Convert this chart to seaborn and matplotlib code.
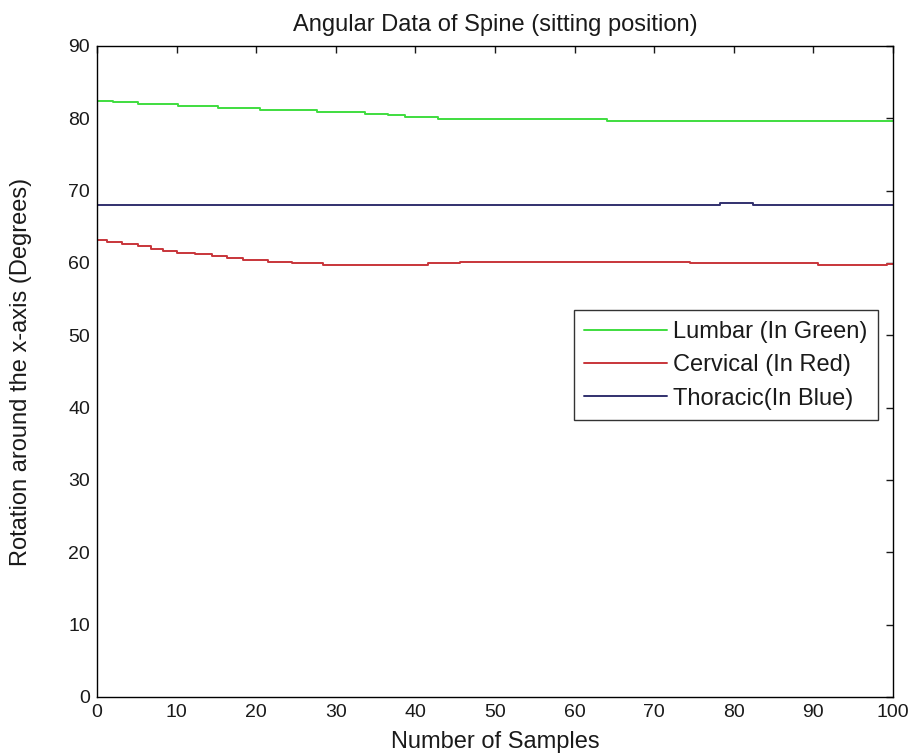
import matplotlib
matplotlib.use("Agg")
import matplotlib.pyplot as plt
import seaborn as sns
import pandas as pd

# Sample index where each level begins, and the angle held from there on
lumbar_x = [0, 2, 5.2, 10.2, 15.2, 20.5, 27.6, 33.7, 36.6, 38.7, 42.8, 64.1, 100]
lumbar_y = [82.44, 82.2, 81.94, 81.7, 81.4, 81.15, 80.87, 80.6, 80.4, 80.15, 79.87, 79.63, 79.63]

cervical_x = [0, 1.2, 3.2, 5.2, 6.8, 8.3, 10.1, 12.3, 14.4, 16.3, 18.3, 21.5, 24.5,
              28.4, 41.6, 45.6, 74.5, 90.6, 99.2, 100]
cervical_y = [63.2, 62.9, 62.6, 62.3, 62.0, 61.7, 61.43, 61.2, 60.97, 60.7, 60.4, 60.2,
              59.96, 59.68, 59.96, 60.2, 59.96, 59.68, 59.9, 59.9]

thoracic_x = [0, 78.3, 82.4, 100]
thoracic_y = [68.02, 68.25, 68.02, 68.02]

labels = ["Lumbar (In Green)", "Cervical (In Red)", "Thoracic(In Blue)"]
colors = ["#3fdd3f", "#c8353a", "#31306e"]

frames = []
for name, xs, ys in zip(labels, [lumbar_x, cervical_x, thoracic_x],
                        [lumbar_y, cervical_y, thoracic_y]):
    frames.append(pd.DataFrame({"sample": xs, "angle": ys, "series": name}))
df = pd.concat(frames, ignore_index=True)

sns.set_style("white")
plt.rcParams["font.family"] = ["Liberation Sans", "DejaVu Sans"]

fig = plt.figure(figsize=(9.17, 7.54), dpi=100)
ax = fig.add_axes([0.1058, 0.0756, 0.8680, 0.8634])

sns.lineplot(data=df, x="sample", y="angle", hue="series", hue_order=labels,
             palette=colors, drawstyle="steps-post", linewidth=1.4,
             estimator=None, sort=False, ax=ax)

ax.set_xlim(0, 100)
ax.set_ylim(0, 90)
ax.set_xticks(range(0, 101, 10))
ax.set_yticks(range(0, 91, 10))
ax.tick_params(direction="in", length=5, width=1, top=True, right=True,
               labelsize=14, colors="#1a1a1a", pad=5)
for s in ax.spines.values():
    s.set_visible(True)
    s.set_color("black")
    s.set_linewidth(1)

ax.set_title("Angular Data of Spine (sitting position)", fontsize=17, pad=11,
             color="#1a1a1a")
ax.set_xlabel("Number of Samples", fontsize=17, color="#1a1a1a")
ax.set_ylabel("Rotation around the x-axis (Degrees)", fontsize=17, color="#1a1a1a")
ax.xaxis.set_label_coords(0.5, -0.052)
ax.yaxis.set_label_coords(-0.082, 0.5)

leg = ax.legend(loc="upper right", bbox_to_anchor=(0.981, 0.594), borderaxespad=0,
                fontsize=17, frameon=True, fancybox=False, handlelength=3.5,
                handletextpad=0.25, labelspacing=0.48, borderpad=0.45)
leg.get_frame().set_edgecolor("black")
leg.get_frame().set_linewidth(1)
for t in leg.get_texts():
    t.set_color("#1a1a1a")
leg.set_title(None)

fig.savefig("out.png", dpi=100)
